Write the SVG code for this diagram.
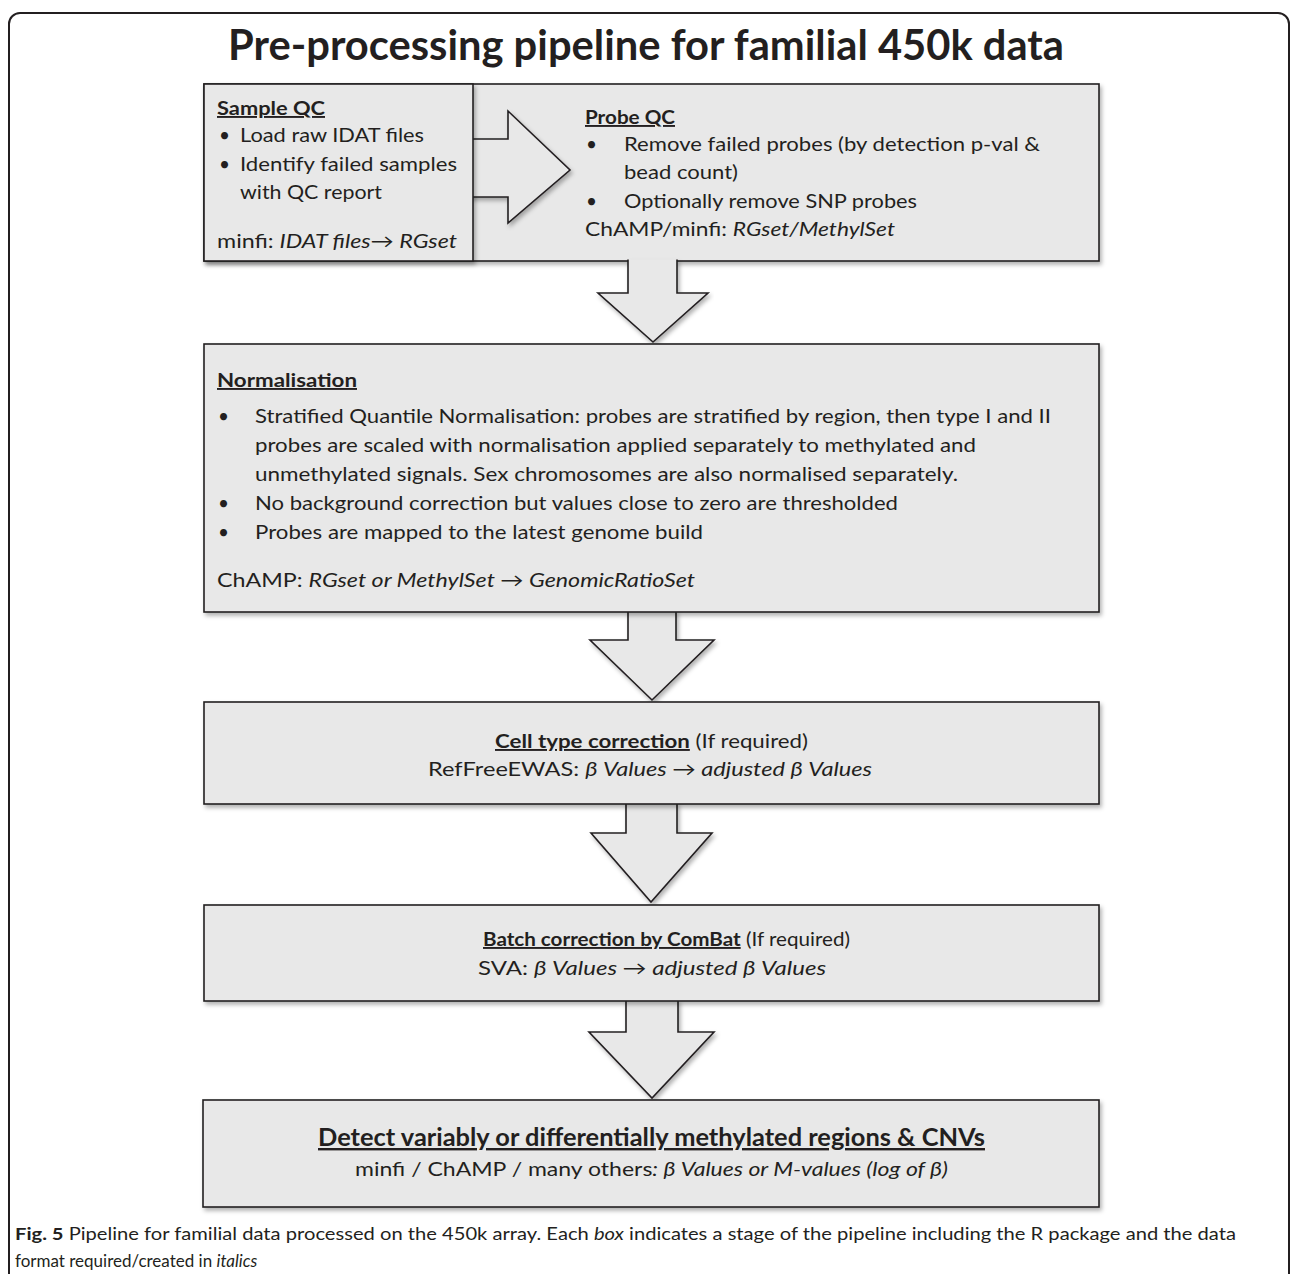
<svg xmlns="http://www.w3.org/2000/svg" width="1292" height="1274" viewBox="0 0 1292 1274" xml:space="preserve">
<defs>
<filter id="sh" x="-5%" y="-5%" width="110%" height="115%">
<feDropShadow dx="2" dy="3" stdDeviation="2" flood-color="#000" flood-opacity="0.3"/>
</filter>
<style>
.box{fill:#e8e8e8;stroke:#231f20;stroke-width:1.6}
.arr{fill:#e8e8e8;stroke:#231f20;stroke-width:1.6;stroke-linejoin:miter}
text{font-family:Lato,"Open Sans","Liberation Sans",sans-serif;fill:#231f20;font-size:19px}
.b{font-weight:bold}
.u{text-decoration:underline}
.i{font-style:italic}
.title{font-size:42px;font-weight:bold}
.cap{font-size:17px}
</style>
</defs>
<rect x="9" y="13" width="1280" height="1300" rx="11" fill="#fff" stroke="#231f20" stroke-width="2"/>
<text class="title" x="228" y="60" textLength="836" lengthAdjust="spacingAndGlyphs">Pre-processing pipeline for familial 450k data</text>

<g id="probe-qc">
<rect class="box" x="204" y="84" width="895" height="177" filter="url(#sh)"/>
<text class="b u" x="585" y="124" textLength="90" lengthAdjust="spacingAndGlyphs">Probe QC</text>
<text x="586" y="151">•</text>
<text x="624" y="151" textLength="416" lengthAdjust="spacingAndGlyphs">Remove failed probes (by detection p-val &amp;</text>
<text x="624" y="179" textLength="114" lengthAdjust="spacingAndGlyphs">bead count)</text>
<text x="586" y="208">•</text>
<text x="624" y="208" textLength="293" lengthAdjust="spacingAndGlyphs">Optionally remove SNP probes</text>
<text x="585" y="236" textLength="310" lengthAdjust="spacingAndGlyphs">ChAMP/minfi:  <tspan class="i">RGset/MethylSet</tspan></text>
</g>

<g id="connectors">
<path class="arr" d="M440,139 H508 V111 L570,170 L508,223 V197 H440 Z" filter="url(#sh)"/>
<path class="arr" d="M628,259.5 V293 H598 L653,342 L708,293 H677 V259.5" filter="url(#sh)"/>
<path class="arr" d="M628,610.5 V640 H590 L652,700 L714,640 H676 V610.5" filter="url(#sh)"/>
<path class="arr" d="M626,802.5 V833 H591 L651,902 L712,833 H677 V802.5" filter="url(#sh)"/>
<path class="arr" d="M626,999.5 V1032 H589 L652,1098 L714,1032 H678 V999.5" filter="url(#sh)"/>
</g>

<g id="sample-qc">
<rect class="box" x="204" y="84" width="269" height="177" filter="url(#sh)"/>
<text class="b u" x="217" y="115" textLength="108" lengthAdjust="spacingAndGlyphs">Sample QC</text>
<text x="219" y="142">•</text>
<text x="240" y="142" textLength="184" lengthAdjust="spacingAndGlyphs">Load raw IDAT files</text>
<text x="219" y="171">•</text>
<text x="240" y="171" textLength="217" lengthAdjust="spacingAndGlyphs">Identify failed samples</text>
<text x="240" y="199" textLength="142" lengthAdjust="spacingAndGlyphs">with QC report</text>
<text x="217" y="248" textLength="240" lengthAdjust="spacingAndGlyphs">minfi:  <tspan class="i">IDAT files→ RGset</tspan></text>
</g>

<g id="normalisation">
<rect class="box" x="204" y="344" width="895" height="268" filter="url(#sh)"/>
<text class="b u" x="217" y="387" textLength="140" lengthAdjust="spacingAndGlyphs">Normalisation</text>
<text x="218" y="423">•</text>
<text x="255" y="423" textLength="796" lengthAdjust="spacingAndGlyphs">Stratified Quantile Normalisation: probes are stratified by region, then type I and II</text>
<text x="255" y="452" textLength="721" lengthAdjust="spacingAndGlyphs">probes are scaled with normalisation applied separately to methylated and</text>
<text x="255" y="481" textLength="703" lengthAdjust="spacingAndGlyphs">unmethylated signals.  Sex chromosomes are also normalised separately.</text>
<text x="218" y="510">•</text>
<text x="255" y="510" textLength="643" lengthAdjust="spacingAndGlyphs">No background correction but values close to zero are thresholded</text>
<text x="218" y="539">•</text>
<text x="255" y="539" textLength="448" lengthAdjust="spacingAndGlyphs">Probes are mapped to the latest genome build</text>
<text x="217" y="587" textLength="478" lengthAdjust="spacingAndGlyphs">ChAMP:  <tspan class="i">RGset or MethylSet → GenomicRatioSet</tspan></text>
</g>

<g id="cell-type">
<rect class="box" x="204" y="702" width="895" height="102" filter="url(#sh)"/>
<text x="495" y="748" textLength="313" lengthAdjust="spacingAndGlyphs"><tspan class="b u">Cell type correction</tspan> (If required)</text>
<text x="428" y="776" textLength="444" lengthAdjust="spacingAndGlyphs">RefFreeEWAS:  <tspan class="i">β Values → adjusted β Values</tspan></text>
</g>

<g id="batch">
<rect class="box" x="204" y="905" width="895" height="96" filter="url(#sh)"/>
<text x="483" y="946" textLength="367" lengthAdjust="spacingAndGlyphs"><tspan class="b u">Batch correction by ComBat</tspan> (If required)</text>
<text x="478" y="975" textLength="348" lengthAdjust="spacingAndGlyphs">SVA:  <tspan class="i">β Values → adjusted β Values</tspan></text>
</g>

<g id="detect">
<rect class="box" x="203" y="1100" width="896" height="107" filter="url(#sh)"/>
<text class="b u" x="318" y="1146" style="font-size:24px" textLength="667" lengthAdjust="spacingAndGlyphs">Detect variably or differentially methylated regions &amp; CNVs</text>
<text x="355" y="1176" textLength="593" lengthAdjust="spacingAndGlyphs">minfi / ChAMP / many others<tspan class="i">:  β Values or M-values (log of β)</tspan></text>
</g>

<text class="cap" x="15" y="1240" textLength="1221" lengthAdjust="spacingAndGlyphs"><tspan class="b">Fig. 5</tspan> Pipeline for familial data processed on the 450k array. Each <tspan class="i">box</tspan> indicates a stage of the pipeline including the R package and the data</text>
<text class="cap" x="15" y="1267">format required/created in <tspan class="i">italics</tspan></text>
</svg>
